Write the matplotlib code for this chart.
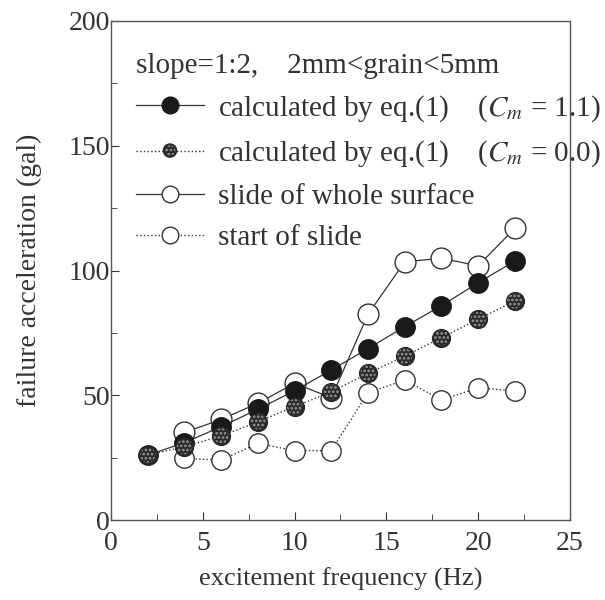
import numpy as np
import matplotlib.pyplot as plt
from matplotlib.lines import Line2D
from matplotlib.patches import Ellipse
from matplotlib.ticker import MultipleLocator

plt.rcParams['font.family'] = ['Liberation Serif', 'DejaVu Serif']
plt.rcParams['mathtext.fontset'] = 'stix'
plt.rcParams['hatch.linewidth'] = 1.3

freq_calc = [2, 4, 6, 8, 10, 12, 14, 16, 18, 20, 22]
calc_cm11 = [26.0, 31.0, 37.4, 44.4, 51.8, 60.1, 68.7, 77.5, 85.9, 95.1, 103.8]
calc_cm00 = [26.0, 29.4, 33.7, 39.4, 45.4, 51.4, 58.8, 65.7, 73.1, 80.4, 87.8]

freq_exp = [4, 6, 8, 10, 12, 14, 16, 18, 20, 22]
whole_slide = [35.1, 40.3, 46.8, 54.8, 49.0, 82.4, 103.5, 104.9, 101.9, 116.9]
start_slide = [24.7, 24.0, 30.7, 27.8, 27.8, 51.0, 56.1, 48.1, 53.0, 51.7]

ink = '#333333'
dark = '#1a1a1a'
shade = '#2a2a2a'


class DottedMarkerHandler:
    # dotted line with a dark, speckled circle in the middle
    def legend_artist(self, legend, orig_handle, fontsize, handlebox):
        x0, y0 = handlebox.xdescent, handlebox.ydescent
        w, h = handlebox.width, handlebox.height
        cy = y0 + h / 2
        ln = Line2D([x0, x0 + w], [cy, cy], ls=':', color=ink, lw=1.0,
                    transform=handlebox.get_transform())
        d = 9.5
        c1 = Ellipse((x0 + w / 2, cy), d, d, facecolor=shade, edgecolor=shade,
                     transform=handlebox.get_transform())
        c2 = Ellipse((x0 + w / 2, cy), d * 0.8, d * 0.8, facecolor='none',
                     edgecolor='#9a9a9a', hatch='....', lw=0,
                     transform=handlebox.get_transform())
        for a in (ln, c1, c2):
            handlebox.add_artist(a)
        return c1


fig = plt.figure(figsize=(6.05, 6.0), dpi=100)
ax = fig.add_axes([0.1835, 0.1333, 0.7585, 0.8317])

ax.plot(freq_exp, whole_slide, '-', color=ink, lw=0.9, marker='o', ms=15,
        mfc='white', mec=ink, mew=1.0, zorder=2)
ax.plot(freq_exp, start_slide, ':', color=ink, lw=1.0, marker='o', ms=14,
        mfc='white', mec=ink, mew=1.0, zorder=2)
ax.plot(freq_calc, calc_cm11, '-', color=ink, lw=0.9, marker='o', ms=14,
        mfc=dark, mec=dark, zorder=3)
ax.plot(freq_calc, calc_cm00, ':', color=ink, lw=1.0, zorder=3)
ax.scatter(freq_calc, calc_cm00, s=170, facecolor=shade, edgecolor=shade,
           linewidths=0.8, zorder=4)
ax.scatter(freq_calc, calc_cm00, s=120, facecolor='none', edgecolor='#9a9a9a',
           hatch='....', linewidths=0, zorder=5)

ax.set_xlim(0, 25)
ax.set_ylim(0, 200)
ax.xaxis.set_major_locator(MultipleLocator(5))
ax.xaxis.set_minor_locator(MultipleLocator(2.5))
ax.yaxis.set_major_locator(MultipleLocator(50))
ax.yaxis.set_minor_locator(MultipleLocator(25))
ax.tick_params(which='both', direction='in', top=False, right=False,
               labelsize=20, colors=ink, pad=1)
ax.tick_params(axis='x', pad=8)
ax.tick_params(which='major', length=6)
ax.tick_params(which='minor', length=4)
for s in ax.spines.values():
    s.set_color('#555555')
    s.set_linewidth(1.0)

ax.set_xlabel('excitement frequency (Hz)', fontsize=19, color=ink, labelpad=8)
ax.set_ylabel('failure acceleration (gal)', fontsize=20, color=ink, labelpad=19)

handles = [
    Line2D([], [], ls='-', color=ink, lw=0.9, marker='o', ms=12, mfc=dark, mec=dark),
    'dotted_shaded',
    Line2D([], [], ls='-', color=ink, lw=0.9, marker='o', ms=12, mfc='white', mec=ink),
    Line2D([], [], ls=':', color=ink, lw=1.0, marker='o', ms=12, mfc='white', mec=ink),
]
labels = [
    'calculated by eq.(1)    ($C_m$ = 1.1)',
    'calculated by eq.(1)    ($C_m$ = 0.0)',
    'slide of whole surface',
    'start of slide',
]
leg = ax.legend(handles, labels, loc='upper left', frameon=False, fontsize=21,
                title='slope=1:2,    2mm<grain<5mm', title_fontsize=21,
                alignment='left', handlelength=2.3, handletextpad=0.5,
                labelspacing=0.5, borderaxespad=0.0, bbox_to_anchor=(0.03, 0.96),
                handler_map={str: DottedMarkerHandler()})
for t in leg.get_texts():
    t.set_color(ink)
leg.get_title().set_color(ink)

fig.savefig('out.png', dpi=100)
